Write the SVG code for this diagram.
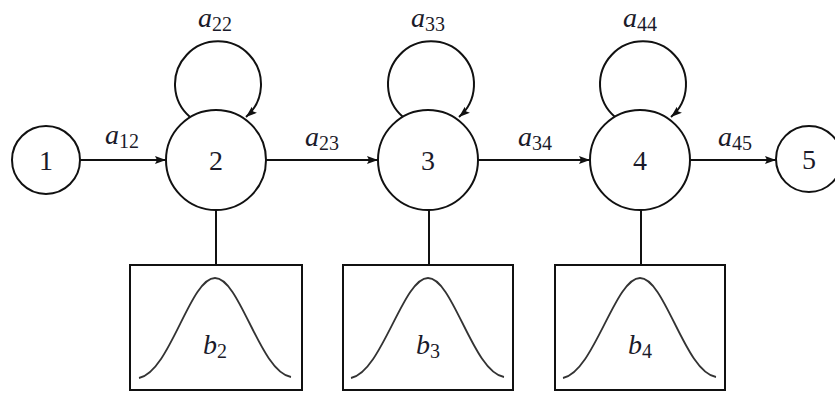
<svg xmlns="http://www.w3.org/2000/svg" width="835" height="395" viewBox="0 0 835 395">
<style>
.n{fill:#fff;stroke:#111;stroke-width:2}
.e{fill:none;stroke:#111;stroke-width:2}
.b{fill:#fff;stroke:#111;stroke-width:2}
.g{fill:none;stroke:#333;stroke-width:1.8}
.t{font-family:"Liberation Serif",serif;font-size:28px;fill:#1a1a2a;text-anchor:middle}
.l{font-family:"Liberation Serif",serif;font-size:28px;font-style:italic;fill:#1a1a2a;text-anchor:middle}
.s{font-size:20px;font-style:normal}
</style>
<defs>
<marker id="ar" markerWidth="12" markerHeight="10" refX="11" refY="5" orient="auto" markerUnits="userSpaceOnUse">
<path d="M0,1 L11,5 L0,9 L2,5 Z" fill="#111"/>
</marker>
</defs>
<g id="connectors">
<line class="e" x1="80" y1="160" x2="166" y2="160" marker-end="url(#ar)"/>
<line class="e" x1="266" y1="160" x2="378" y2="160" marker-end="url(#ar)"/>
<line class="e" x1="478" y1="160" x2="590" y2="160" marker-end="url(#ar)"/>
<line class="e" x1="690" y1="160" x2="776" y2="160" marker-end="url(#ar)"/>
<path class="e" d="M190,117 A43,43 0 1,1 246,117" marker-end="url(#ar)"/>
<path class="e" d="M403,117 A43,43 0 1,1 459,117" marker-end="url(#ar)"/>
<path class="e" d="M615,117 A43,43 0 1,1 671,117" marker-end="url(#ar)"/>
<line class="e" x1="216" y1="210" x2="216" y2="265"/>
<line class="e" x1="429" y1="210" x2="429" y2="265"/>
<line class="e" x1="641" y1="210" x2="641" y2="265"/>
<text class="l" x="122" y="144">a<tspan class="s" dy="4">12</tspan></text>
<text class="l" x="322" y="146">a<tspan class="s" dy="4">23</tspan></text>
<text class="l" x="535" y="146">a<tspan class="s" dy="4">34</tspan></text>
<text class="l" x="735" y="146">a<tspan class="s" dy="4">45</tspan></text>
<text class="l" x="215" y="27">a<tspan class="s" dy="4">22</tspan></text>
<text class="l" x="428" y="27">a<tspan class="s" dy="4">33</tspan></text>
<text class="l" x="640" y="27">a<tspan class="s" dy="4">44</tspan></text>
</g>
<g id="node1"><circle class="n" cx="46" cy="160" r="34"/><text class="t" x="46" y="170">1</text></g>
<g id="node2"><circle class="n" cx="216" cy="160" r="50"/><text class="t" x="216" y="170">2</text></g>
<g id="node3"><circle class="n" cx="428" cy="160" r="50"/><text class="t" x="428" y="170">3</text></g>
<g id="node4"><circle class="n" cx="640" cy="160" r="50"/><text class="t" x="640" y="170">4</text></g>
<g id="node5"><circle class="n" cx="809" cy="159" r="33"/><text class="t" x="809" y="169">5</text></g>
<g id="b2"><rect class="b" x="130" y="265" width="172" height="125"/>
<path class="g" d="M139,378 C170,372 190,278 215,278 C240,278 260,372 291,377"/>
<text class="l" x="215" y="354">b<tspan class="s" dy="4">2</tspan></text></g>
<g id="b3"><rect class="b" x="343" y="265" width="170" height="125"/>
<path class="g" d="M351,378 C382,372 403,278 428,278 C453,278 473,372 504,377"/>
<text class="l" x="428" y="354">b<tspan class="s" dy="4">3</tspan></text></g>
<g id="b4"><rect class="b" x="555" y="265" width="170" height="125"/>
<path class="g" d="M563,378 C594,372 615,278 640,278 C665,278 685,372 716,377"/>
<text class="l" x="640" y="354">b<tspan class="s" dy="4">4</tspan></text></g>
</svg>
